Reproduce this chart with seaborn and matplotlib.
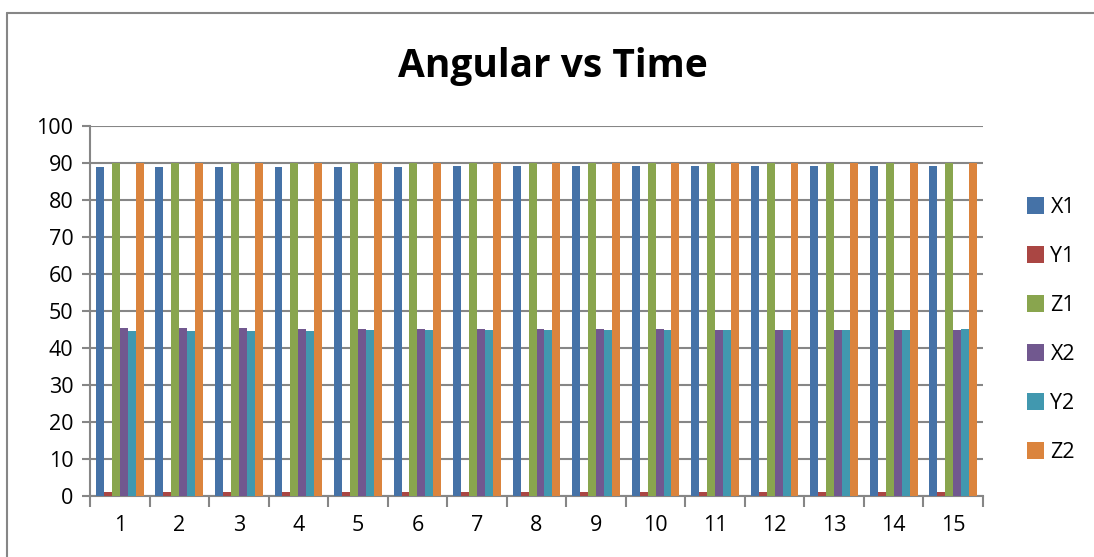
import matplotlib
matplotlib.use("Agg")
import matplotlib.pyplot as plt
from matplotlib.lines import Line2D
from matplotlib.patches import Patch
import numpy as np
import pandas as pd
import seaborn as sns

# Time steps and angular readings per sensor axis
time_steps = list(range(1, 16))
x1 = [88.9, 88.9, 88.9, 88.9, 89.0, 89.0, 89.1, 89.1, 89.1, 89.1, 89.1, 89.1, 89.1, 89.1, 89.1]
y1 = [1.1] * 15
z1 = [90.0] * 15
x2 = [45.3, 45.3, 45.3, 45.2, 45.2, 45.2, 45.2, 45.1, 45.1, 45.1, 45.0, 45.0, 45.0, 45.0, 44.9]
y2 = [44.7, 44.7, 44.7, 44.7, 44.8, 44.8, 44.8, 44.8, 44.9, 44.9, 44.9, 44.9, 45.0, 45.0, 45.1]
z2 = [90.0] * 15
series_names = ["X1", "Y1", "Z1", "X2", "Y2", "Z2"]
y_ticks = list(range(0, 101, 10))

colors = ["#4572A7", "#AA4643", "#89A54E", "#71588F", "#4198AF", "#DB843D"]

df = pd.DataFrame({"Time": time_steps, "X1": x1, "Y1": y1, "Z1": z1,
                   "X2": x2, "Y2": y2, "Z2": z2})
long = df.melt(id_vars="Time", var_name="Series", value_name="Angle")

sns.set_style("white")
plt.rcParams["font.family"] = ["Open Sans", "DejaVu Sans"]
plt.rcParams["text.color"] = "black"

W, H = 1094, 557
fig = plt.figure(figsize=(W / 100, H / 100), dpi=100)
ax = fig.add_axes([90 / W, 1 - 496 / H, (983 - 90) / W, (496 - 126) / H])

sns.barplot(data=long, x="Time", y="Angle", hue="Series", hue_order=series_names,
            palette=colors, width=0.8, gap=0, saturation=1, ax=ax,
            edgecolor="none", linewidth=0, legend=False, zorder=3)

ax.set_ylim(0, 100)
ax.set_xlim(-0.5, len(time_steps) - 0.5)
ax.set_yticks(y_ticks)
ax.yaxis.grid(True, color="#868686", linewidth=1.5, zorder=0)
ax.xaxis.grid(False)
ax.set_axisbelow(True)
ax.set_xlabel("")
ax.set_ylabel("")

grey = "#868686"
for side in ["top", "right"]:
    ax.spines[side].set_visible(False)
for side in ["left", "bottom"]:
    ax.spines[side].set_color(grey)
    ax.spines[side].set_linewidth(1.5)

ax.tick_params(axis="y", which="major", left=True, length=6, width=1.5,
               color=grey, labelsize=15.5, pad=6, labelcolor="black")
ax.tick_params(axis="x", which="major", bottom=False, length=0,
               labelsize=15.5, pad=14, labelcolor="black")
ax.set_xticks(np.arange(-0.5, len(time_steps), 1.0), minor=True)
ax.tick_params(axis="x", which="minor", bottom=True, length=8, width=1.5, color=grey)

fig.text(553 / W, 1 - 67 / H, "Angular vs Time", ha="center", va="center",
         fontsize=28, fontweight="bold", color="black")

handles = [Patch(facecolor=c, edgecolor="none") for c in colors]
leg = fig.legend(handles, series_names, loc="center left",
                 bbox_to_anchor=(1016 / W, 1 - 330 / H), frameon=False,
                 fontsize=15.5, handlelength=0.8, handleheight=0.8, handletextpad=0.3,
                 labelspacing=1.3, borderpad=0)
for t in leg.get_texts():
    t.set_color("black")

# Chart area frame along the top and left
fig.add_artist(Line2D([7 / W, 7 / W], [0, 1 - 13 / H], transform=fig.transFigure,
                      color=grey, linewidth=1.5))
fig.add_artist(Line2D([7 / W, 1.01], [1 - 13 / H, 1 - 13 / H], transform=fig.transFigure,
                      color=grey, linewidth=1.5))

fig.savefig("out.png", dpi=100)
